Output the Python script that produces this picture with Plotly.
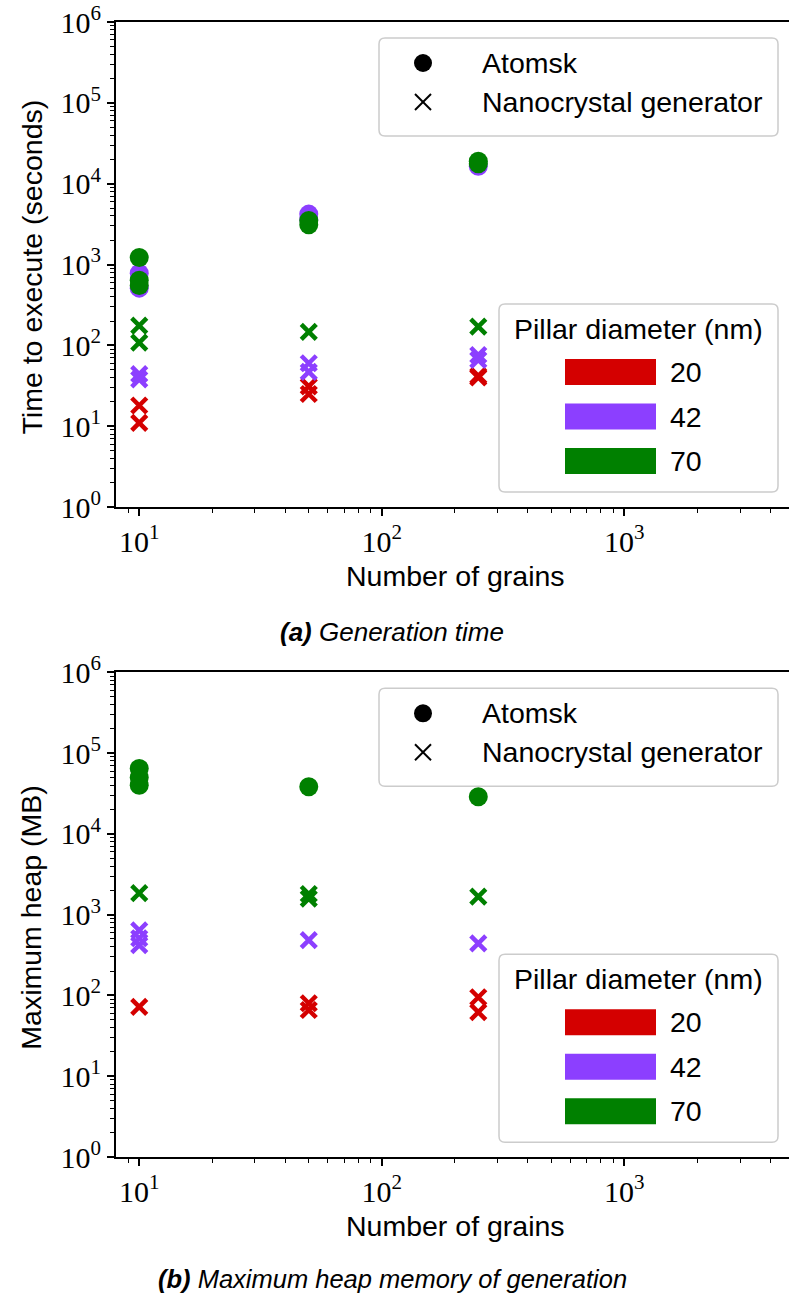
import numpy as np
import plotly.graph_objects as go

# ---------------- data ----------------
diameters = [20, 42, 70]
diameter_colors = {20: "#d40000", 42: "#8c3fff", 70: "#008000"}

# (a) generation time in seconds, several runs per grain count
time_atomsk_42_x = [10, 10, 50, 50, 250]
time_atomsk_42_y = [780, 510, 4200, 3600, 16400]
time_atomsk_70_x = [10, 10, 10, 50, 50, 250, 250]
time_atomsk_70_y = [1220, 640, 550, 3500, 3100, 19000, 17600]

time_nano_20_x = [10, 10, 50, 50, 250, 250]
time_nano_20_y = [18, 11, 31, 25, 42, 40]
time_nano_42_x = [10, 10, 50, 50, 250, 250]
time_nano_42_y = [44, 38, 60, 47, 76, 66]
time_nano_70_x = [10, 10, 50, 250]
time_nano_70_y = [175, 108, 147, 170]

# (b) maximum heap in MB
heap_atomsk_70_x = [10, 10, 10, 50, 250]
heap_atomsk_70_y = [64600, 50000, 40000, 38300, 28800]

heap_nano_20_x = [10, 50, 50, 250, 250]
heap_nano_20_y = [72, 80, 66, 95, 62]
heap_nano_42_x = [10, 10, 10, 50, 250]
heap_nano_42_y = [640, 510, 420, 485, 441]
heap_nano_70_x = [10, 50, 50, 250]
heap_nano_70_y = [1850, 1800, 1580, 1670]

x_tick_vals = [10, 100, 1000]
x_tick_text = ["10<sup>1</sup>", "10<sup>2</sup>", "10<sup>3</sup>"]
y_tick_vals = [1, 10, 100, 1000, 10000, 100000, 1000000]
y_tick_text = ["10<sup>%d</sup>" % k for k in range(7)]

method_labels = ["Atomsk", "Nanocrystal generator"]
legend_title = "Pillar diameter (nm)"
captions = ["<b>(a)</b> Generation time", "<b>(b)</b> Maximum heap memory of generation"]
y_titles = ["Time to execute (seconds)", "Maximum heap (MB)"]
x_title = "Number of grains"

# ---------------- layout helpers ----------------
W, H = 789, 1297
SANS = "Liberation Sans, Arial, sans-serif"
SERIF = "Liberation Serif, Times New Roman, serif"
TXT = 28.5


def fx(px):
    return px / W


def fy(py):
    return 1 - py / H


panels = [
    dict(top=22.0, bottom=507.0),
    dict(top=672.3, bottom=1157.0),
]
x_left_px = 116.0

fig = go.Figure()

series = [
    # panel 0
    [("circle", 42, time_atomsk_42_x, time_atomsk_42_y),
     ("circle", 70, time_atomsk_70_x, time_atomsk_70_y),
     ("x", 20, time_nano_20_x, time_nano_20_y),
     ("x", 42, time_nano_42_x, time_nano_42_y),
     ("x", 70, time_nano_70_x, time_nano_70_y)],
    # panel 1
    [("circle", 70, heap_atomsk_70_x, heap_atomsk_70_y),
     ("x", 20, heap_nano_20_x, heap_nano_20_y),
     ("x", 42, heap_nano_42_x, heap_nano_42_y),
     ("x", 70, heap_nano_70_x, heap_nano_70_y)],
]

for i, group in enumerate(series):
    xa = "x" if i == 0 else "x2"
    ya = "y" if i == 0 else "y2"
    for sym, d, xs, ys in group:
        c = diameter_colors[d]
        if sym == "circle":
            marker = dict(symbol="circle", size=19, color=c, line=dict(width=0))
        else:
            marker = dict(symbol="x-thin", size=15, color=c, line=dict(width=4.5, color=c))
        fig.add_trace(go.Scatter(x=xs, y=ys, mode="markers", marker=marker,
                                 xaxis=xa, yaxis=ya, showlegend=False,
                                 hoverinfo="x+y"))

minor_y = [k * 10 ** n for n in range(6) for k in range(2, 10)]
minor_x = [k * 10 ** n for n in range(0, 4) for k in range(2, 10)]

axis_common = dict(
    type="log", showgrid=False, zeroline=False, automargin=False,
    showline=True, linecolor="black", linewidth=2,
    ticks="outside", ticklen=7, tickwidth=1.5, tickcolor="black",
    tickmode="array", tickfont=dict(family=SERIF, size=30, color="black"),
)

x_range = [np.log10(8.02), 3.679]

for i, p in enumerate(panels):
    sfx = "" if i == 0 else "2"
    fig.update_layout(**{
        "xaxis" + sfx: dict(
            axis_common,
            domain=[fx(x_left_px), 1.0], range=x_range,
            tickvals=x_tick_vals, ticktext=x_tick_text,
            anchor="y" + sfx, mirror=True,
            minor=dict(ticks="outside", ticklen=4, tickwidth=1.2,
                       tickcolor="black", tickvals=minor_x),
        ),
        "yaxis" + sfx: dict(
            axis_common,
            domain=[fy(p["bottom"]), fy(p["top"])], range=[0, 6],
            tickvals=y_tick_vals, ticktext=y_tick_text,
            anchor="x" + sfx,
            minor=dict(ticks="outside", ticklen=4, tickwidth=1.2,
                       tickcolor="black", tickvals=minor_y),
        ),
    })

shapes = []
annotations = []


def rounded_rect(x0, y0, x1, y1, r=6):
    # rounded rectangle path in paper coordinates, given pixel corners
    rx, ry = r / W, r / H
    X0, X1 = fx(x0), fx(x1)
    Y0, Y1 = fy(y0), fy(y1)  # Y0 is top
    return (f"M {X0 + rx},{Y0} L {X1 - rx},{Y0} Q {X1},{Y0} {X1},{Y0 - ry} "
            f"L {X1},{Y1 + ry} Q {X1},{Y1} {X1 - rx},{Y1} "
            f"L {X0 + rx},{Y1} Q {X0},{Y1} {X0},{Y1 + ry} "
            f"L {X0},{Y0 - ry} Q {X0},{Y0} {X0 + rx},{Y0} Z")


def text(x, y, s, size=TXT, xanchor="left", family=SANS, angle=0, italic=False):
    annotations.append(dict(
        x=fx(x), y=fy(y), xref="paper", yref="paper", text=s, showarrow=False,
        xanchor=xanchor, yanchor="middle", textangle=angle,
        font=dict(family=family, size=size, color="black",
                  style="italic" if italic else "normal"),
    ))


for i, p in enumerate(panels):
    dy = p["top"] - panels[0]["top"]
    # method legend
    shapes.append(dict(type="path", path=rounded_rect(379, 38 + dy, 778, 136 + dy),
                       xref="paper", yref="paper", fillcolor="rgba(255,255,255,0.8)",
                       line=dict(color="#cccccc", width=1.5), layer="above"))
    shapes.append(dict(type="circle", xref="paper", yref="paper",
                       x0=fx(414), x1=fx(432), y0=fy(54 + dy), y1=fy(72 + dy),
                       fillcolor="black", line=dict(width=0), layer="above"))
    for a, b in [((415, 94), (431, 110)), ((415, 110), (431, 94))]:
        shapes.append(dict(type="line", xref="paper", yref="paper",
                           x0=fx(a[0]), y0=fy(a[1] + dy), x1=fx(b[0]), y1=fy(b[1] + dy),
                           line=dict(color="black", width=2), layer="above"))
    text(480, 63 + dy, method_labels[0])
    text(480, 102 + dy, method_labels[1])

    # diameter legend
    shapes.append(dict(type="path", path=rounded_rect(499, 304 + dy, 778, 492 + dy),
                       xref="paper", yref="paper", fillcolor="rgba(255,255,255,0.8)",
                       line=dict(color="#cccccc", width=1.5), layer="above"))
    text(638, 329 + dy, legend_title, xanchor="center")
    for k, d in enumerate(diameters):
        cy = 372 + 44.5 * k + dy
        shapes.append(dict(type="rect", xref="paper", yref="paper",
                           x0=fx(565), x1=fx(656), y0=fy(cy - 13), y1=fy(cy + 13),
                           fillcolor=diameter_colors[d], line=dict(width=0), layer="above"))
        text(668, cy, str(d))

    # axis titles
    mid = (p["top"] + p["bottom"]) / 2
    text(31, mid + 3, y_titles[i], xanchor="center", angle=-90)
    text(455, p["bottom"] + 69, x_title, xanchor="center")

text(392, 632, captions[0], xanchor="center", italic=True, size=26)
text(392, 1279, captions[1], xanchor="center", italic=True, size=25.5)

fig.update_layout(
    width=W, height=H, margin=dict(l=0, r=0, t=0, b=0, autoexpand=False),
    plot_bgcolor="white", paper_bgcolor="white",
    shapes=shapes, annotations=annotations, showlegend=False,
)

fig.write_html("out.html", config={"displayModeBar": False})
